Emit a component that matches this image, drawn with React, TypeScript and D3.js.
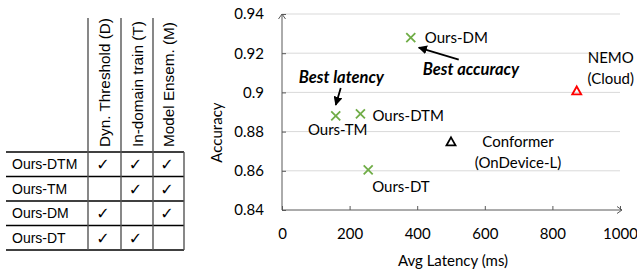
import React, { useRef, useEffect } from 'react';
import * as d3 from 'd3';

// table of ablation components
const tableRows = ["Ours-DTM", "Ours-TM", "Ours-DM", "Ours-DT"];
const tableColumns = ["Dyn. Threshold (D)", "In-domain train (T)", "Model Ensem. (M)"];
const tableChecks = [
    [1, 1, 1],
    [0, 1, 1],
    [1, 0, 1],
    [1, 1, 0],
];

// scatter data
const oursNames = ["Ours-TM", "Ours-DTM", "Ours-DM", "Ours-DT"];
const oursLatency = [159, 232, 381, 255];
const oursAccuracy = [0.888, 0.889, 0.928, 0.8605];

const baseNames = [["NEMO", "(Cloud)"], ["Conformer", "(OnDevice-L)"]];
const baseLatency = [872, 500];
const baseAccuracy = [0.901, 0.875];
const baseColors = ["#ff0000", "#000000"];

const xTicks = [0, 200, 400, 600, 800, 1000];
const yTicks = [0.84, 0.86, 0.88, 0.9, 0.92, 0.94];
const yTickLabels = ["0.84", "0.86", "0.88", "0.9", "0.92", "0.94"];

// label placement (px offsets from the marker)
const oursLabelPos = [
    { dx: 2, dy: 19, anchor: "middle" },
    { dx: 12, dy: 7, anchor: "start" },
    { dx: 14, dy: 5, anchor: "start" },
    { dx: 4, dy: 22, anchor: "start" },
];
const baseLabelPos = [
    { dx: 34, dy: -27 },
    { dx: 67, dy: 6 },
];

const chartFont = "Lato, 'Open Sans', sans-serif";
const tableFont = "'Liberation Sans', Arial, sans-serif";

const App = () => {
    const svgref = useRef<SVGSVGElement>(null);

    useEffect(() => {
        const svg = d3.select(svgref.current);
        svg.selectAll("*").remove();

        // ---------- table ----------
        const t = svg.append("g").attr("font-family", tableFont).attr("font-size", 14).attr("fill", "#000");
        const colX = [88, 121, 153, 184];
        const rowY = [152, 176.5, 201, 225.5, 250];
        const tableLeft = 6;

        rowY.forEach(y => {
            t.append("line").attr("x1", tableLeft).attr("x2", colX[3]).attr("y1", y).attr("y2", y)
                .attr("stroke", "#000").attr("stroke-width", 1.4);
        });
        colX.forEach((x, i) => {
            t.append("line").attr("x1", x).attr("x2", x)
                .attr("y1", i === 3 ? rowY[0] : 18).attr("y2", rowY[4])
                .attr("stroke", "#555").attr("stroke-width", 1.4);
        });
        tableColumns.forEach((c, i) => {
            const cx = (colX[i] + colX[i + 1]) / 2 + 5.5;
            t.append("text")
                .attr("transform", `translate(${cx},147) rotate(-90)`)
                .attr("font-size", 15.3)
                .text(c);
        });
        tableRows.forEach((r, i) => {
            const cy = (rowY[i] + rowY[i + 1]) / 2;
            t.append("text").attr("x", 12).attr("y", cy + 5).text(r);
            tableChecks[i].forEach((v, j) => {
                if (!v) return;
                t.append("text")
                    .attr("x", (colX[j] + colX[j + 1]) / 2 - 1.5)
                    .attr("y", cy + 6)
                    .attr("text-anchor", "middle")
                    .attr("font-family", "'DejaVu Sans', sans-serif")
                    .attr("font-size", 16)
                    .attr("font-weight", "bold")
                    .text("\u2713");
            });
        });

        // ---------- scatter ----------
        const x = d3.scaleLinear().domain([0, 1000]).range([282, 620]);
        const y = d3.scaleLinear().domain([0.84, 0.94]).range([210, 14]);
        const g = svg.append("g").attr("font-family", chartFont).attr("fill", "#000");

        // grid
        g.append("g").selectAll("line").data(yTicks.slice(1)).join("line")
            .attr("x1", x(0)).attr("x2", x(1000))
            .attr("y1", d => y(d)).attr("y2", d => y(d))
            .attr("stroke", "#d9d9d9").attr("stroke-width", 1);

        // axes
        const axisColor = "#595959";
        const xAxis = g.append("g").attr("transform", `translate(0,${y(0.84)})`)
            .call(d3.axisBottom(x).tickValues(xTicks).tickFormat(d3.format("d")).tickSize(-4).tickPadding(18).tickSizeOuter(0));
        xAxis.select(".domain").remove();
        xAxis.selectAll("line").attr("stroke", axisColor);
        xAxis.selectAll("text").attr("font-family", chartFont).attr("font-size", 15).attr("fill", "#000");

        const yAxis = g.append("g").attr("transform", `translate(${x(0)},0)`)
            .call(d3.axisLeft(y).tickValues(yTicks).tickFormat((d, i) => yTickLabels[i]).tickSize(-4).tickPadding(18).tickSizeOuter(0));
        yAxis.select(".domain").remove();
        yAxis.selectAll("line").attr("stroke", axisColor);
        yAxis.selectAll("text").attr("font-family", chartFont).attr("font-size", 15).attr("fill", "#000");

        // axis lines with open arrows
        g.append("path")
            .attr("d", `M${x(0)},${y(0.84)}V${y(0.94)} M${x(0) - 3.5},${y(0.94) + 5}L${x(0)},${y(0.94)}L${x(0) + 3.5},${y(0.94) + 5}`)
            .attr("fill", "none").attr("stroke", axisColor).attr("stroke-width", 1);
        g.append("path")
            .attr("d", `M${x(0)},${y(0.84)}H${x(1000) + 2} M${x(1000) - 3},${y(0.84) - 3.5}L${x(1000) + 2},${y(0.84)}L${x(1000) - 3},${y(0.84) + 3.5}`)
            .attr("fill", "none").attr("stroke", axisColor).attr("stroke-width", 1);

        // axis titles
        g.append("text").attr("x", 453).attr("y", 266).attr("text-anchor", "middle")
            .attr("font-size", 15).text("Avg Latency (ms)");
        g.append("text").attr("transform", `translate(222,${y(0.8795)}) rotate(-90)`).attr("text-anchor", "middle")
            .attr("font-size", 15).text("Accuracy");

        // ours markers
        const s = 4.5;
        oursNames.forEach((n, i) => {
            const px = x(oursLatency[i]), py = y(oursAccuracy[i]);
            g.append("path")
                .attr("d", `M${px - s},${py - s}L${px + s},${py + s}M${px - s},${py + s}L${px + s},${py - s}`)
                .attr("stroke", "#70ad47").attr("stroke-width", 1.8).attr("fill", "none");
            const lp = oursLabelPos[i];
            g.append("text").attr("x", px + lp.dx).attr("y", py + lp.dy)
                .attr("text-anchor", lp.anchor).attr("font-size", 15).text(n);
        });

        // baseline markers
        baseNames.forEach((lines, i) => {
            const px = x(baseLatency[i]), py = y(baseAccuracy[i]);
            g.append("path")
                .attr("d", `M${px},${py - 4}L${px + 4.5},${py + 4}L${px - 4.5},${py + 4}Z`)
                .attr("stroke", baseColors[i]).attr("stroke-width", 1.8).attr("fill", "none");
            const lp = baseLabelPos[i];
            lines.forEach((l, k) => {
                g.append("text").attr("x", px + lp.dx).attr("y", py + lp.dy + k * 20.5)
                    .attr("text-anchor", "middle").attr("font-size", 15).text(l);
            });
        });

        // annotations
        svg.append("defs").append("marker")
            .attr("id", "ah").attr("viewBox", "0 0 10 10").attr("refX", 9).attr("refY", 5)
            .attr("markerWidth", 5).attr("markerHeight", 5).attr("orient", "auto")
            .append("path").attr("d", "M0,0L10,5L0,10Z").attr("fill", "#000");

        const tm = { x: x(oursLatency[0]), y: y(oursAccuracy[0]) };
        g.append("text").attr("x", tm.x - 37).attr("y", tm.y - 33)
            .attr("font-size", 16.5).attr("font-weight", "bold").attr("font-style", "italic").text("Best latency");
        g.append("line").attr("x1", tm.x + 5).attr("y1", tm.y - 28).attr("x2", tm.x).attr("y2", tm.y - 11)
            .attr("stroke", "#000").attr("stroke-width", 1.8).attr("marker-end", "url(#ah)");

        const dm = { x: x(oursLatency[2]), y: y(oursAccuracy[2]) };
        g.append("text").attr("x", dm.x + 12).attr("y", dm.y + 37)
            .attr("font-size", 16.5).attr("font-weight", "bold").attr("font-style", "italic").text("Best accuracy");
        g.append("line").attr("x1", dm.x + 48).attr("y1", dm.y + 22).attr("x2", dm.x + 8).attr("y2", dm.y + 10)
            .attr("stroke", "#000").attr("stroke-width", 1.8).attr("marker-end", "url(#ah)");
    }, []);

    return (
        <div>
            <svg ref={svgref} width={637} height={270}
                style={{ position: "absolute", left: 0, top: 0, background: "#fff" }} />
        </div>
    );
};

export default App;
